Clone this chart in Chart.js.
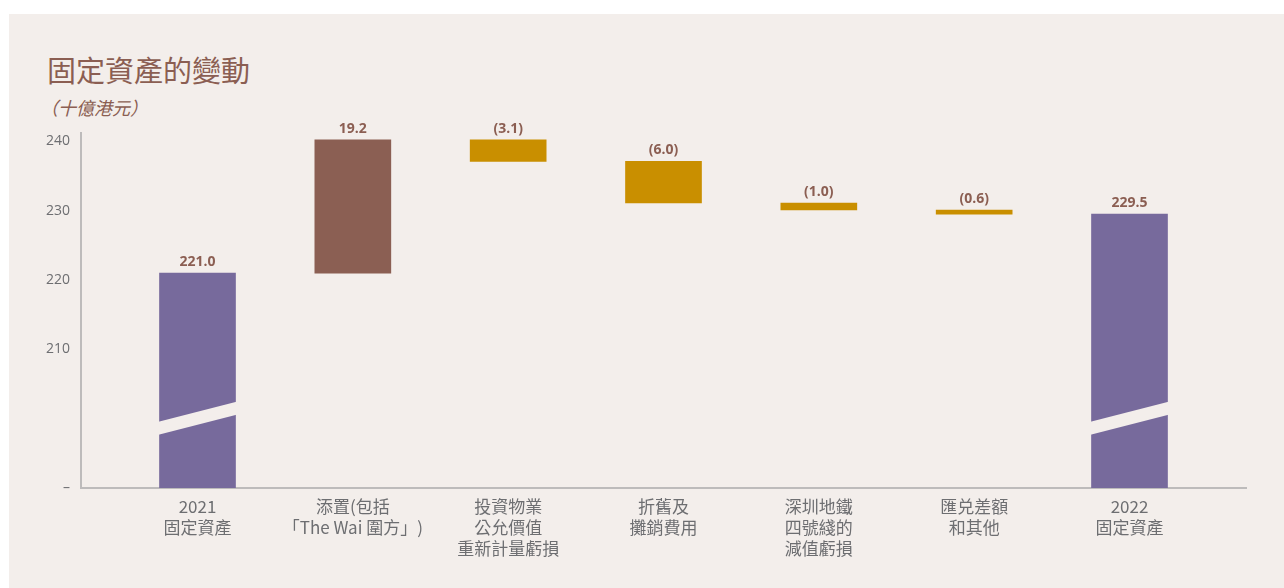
<!DOCTYPE html>
<html>
<head>
<meta charset="utf-8">
<script src="https://cdn.jsdelivr.net/npm/chart.js@4/dist/chart.umd.min.js"></script>
<style>
  html, body { margin: 0; padding: 0; background: #ffffff; }
  body { width: 1284px; height: 588px; position: relative; overflow: hidden; font-family: "Noto Sans CJK TC", "Noto Sans", sans-serif; }
  .panel { position: absolute; left: 9px; top: 14px; right: 0; bottom: 0; background: #f3eeeb; }
  .title { position: absolute; left: 47px; top: 48px; font-size: 29px; color: #8b5e52; }
  .unit { position: absolute; left: 40px; top: 94px; font-size: 18px; color: #8b5e52; font-style: italic; }
  #chart-wrap { position: absolute; left: 0; top: 0; width: 1284px; height: 588px; }
</style>
</head>
<body>
<div class="panel"></div>
<div class="title">固定資產的變動</div>
<div class="unit">（十億港元）</div>
<div id="chart-wrap"><canvas id="chart"></canvas></div>
<script>
// category labels (multi-line)
const categories = [
    ['2021', '固定資產'],
    ['添置(包括', '「The Wai 圍方」)'],
    ['投資物業', '公允價值', '重新計量虧損'],
    ['折舊及', '攤銷費用'],
    ['深圳地鐵', '四號綫的', '減值虧損'],
    ['匯兑差額', '和其他'],
    ['2022', '固定資產']
];
const opening = 221.0;
const changes = [19.2, -3.1, -6.0, -1.0, -0.6];
const closing = 229.5;
const valueLabels = ['221.0', '19.2', '(3.1)', '(6.0)', '(1.0)', '(0.6)', '229.5'];
const yTicks = [190, 210, 220, 230, 240];
const axisFloor = 190;   // broken axis starts here

// build floating bars [from, to]
const ranges = [[axisFloor, opening]];
let running = opening;
changes.forEach(c => {
    const next = Math.round((running + c) * 10) / 10;
    ranges.push([running, next]);
    running = next;
});
ranges.push([axisFloor, closing]);

const colors = ['#776a9c', '#8b5f53', '#c98f00', '#c98f00', '#c98f00', '#c98f00', '#776a9c'];
const barData = ranges.map((r, i) => ({ x: i, y: r }));

const valueLabelPlugin = {
    id: 'valueLabels',
    afterDatasetsDraw(chart) {
        const ctx = chart.ctx;
        const meta = chart.getDatasetMeta(0);
        ctx.save();
        ctx.font = 'bold 14px "Open Sans", "Noto Sans", sans-serif';
        ctx.fillStyle = '#8b5e52';
        ctx.textAlign = 'center';
        ctx.textBaseline = 'bottom';
        meta.data.forEach((bar, i) => {
            const top = Math.min(bar.y, bar.base);
            ctx.fillText(valueLabels[i], bar.x, top - 4);
        });
        ctx.restore();
    }
};

// slanted gap across the full-height bars to mark the broken axis
const breakPlugin = {
    id: 'axisBreak',
    afterDatasetsDraw(chart) {
        const ctx = chart.ctx;
        const y = chart.scales.y;
        const meta = chart.getDatasetMeta(0);
        ctx.save();
        ctx.fillStyle = '#f3eeeb';
        [0, categories.length - 1].forEach(i => {
            const bar = meta.data[i];
            const half = bar.width / 2;
            const l = bar.x - half - 1, r = bar.x + half + 1;
            const yl = y.getPixelForValue(198.6), yr = y.getPixelForValue(201.5);
            const gap = 13;
            ctx.beginPath();
            ctx.moveTo(l, yl - gap / 2);
            ctx.lineTo(r, yr - gap / 2);
            ctx.lineTo(r, yr + gap / 2);
            ctx.lineTo(l, yl + gap / 2);
            ctx.closePath();
            ctx.fill();
        });
        ctx.restore();
    }
};

new Chart(document.getElementById('chart'), {
    type: 'bar',
    data: {
        datasets: [{
            data: barData,
            backgroundColor: colors,
            borderWidth: 0,
            barThickness: 76
        }]
    },
    options: {
        responsive: true,
        maintainAspectRatio: false,
        animation: false,
        layout: { padding: { left: 0, right: 38, top: 133, bottom: 0 } },
        plugins: {
            legend: { display: false },
            tooltip: { enabled: false }
        },
        scales: {
            x: {
                type: 'linear',
                offset: false,
                min: -0.75,
                max: 6.75,
                grid: { display: false, drawTicks: false },
                border: { display: true, color: '#bdbbbb', width: 2 },
                afterBuildTicks: scale => {
                    scale.ticks = categories.map((c, i) => ({ value: i }));
                },
                afterFit: scale => { scale.height = 100; },
                ticks: {
                    autoSkip: false,
                    maxRotation: 0,
                    padding: 8,
                    color: '#6d6e71',
                    font: { size: 17, family: '"Noto Sans CJK TC", "Open Sans", sans-serif', lineHeight: '21px' },
                    callback: v => categories[v] || ''
                }
            },
            y: {
                min: axisFloor,
                max: 241.2,
                grid: { display: false, drawTicks: false },
                border: { display: true, color: '#bdbbbb', width: 2 },
                afterBuildTicks: scale => {
                    scale.ticks = yTicks.map(v => ({ value: v }));
                },
                afterFit: scale => { scale.width = 81; },
                ticks: {
                    padding: 11,
                    color: '#6d6e71',
                    font: { size: 14, family: '"Open Sans", "Noto Sans", sans-serif' },
                    callback: v => v === axisFloor ? '–' : v
                }
            }
        }
    },
    plugins: [valueLabelPlugin, breakPlugin]
});
</script>
</body>
</html>
